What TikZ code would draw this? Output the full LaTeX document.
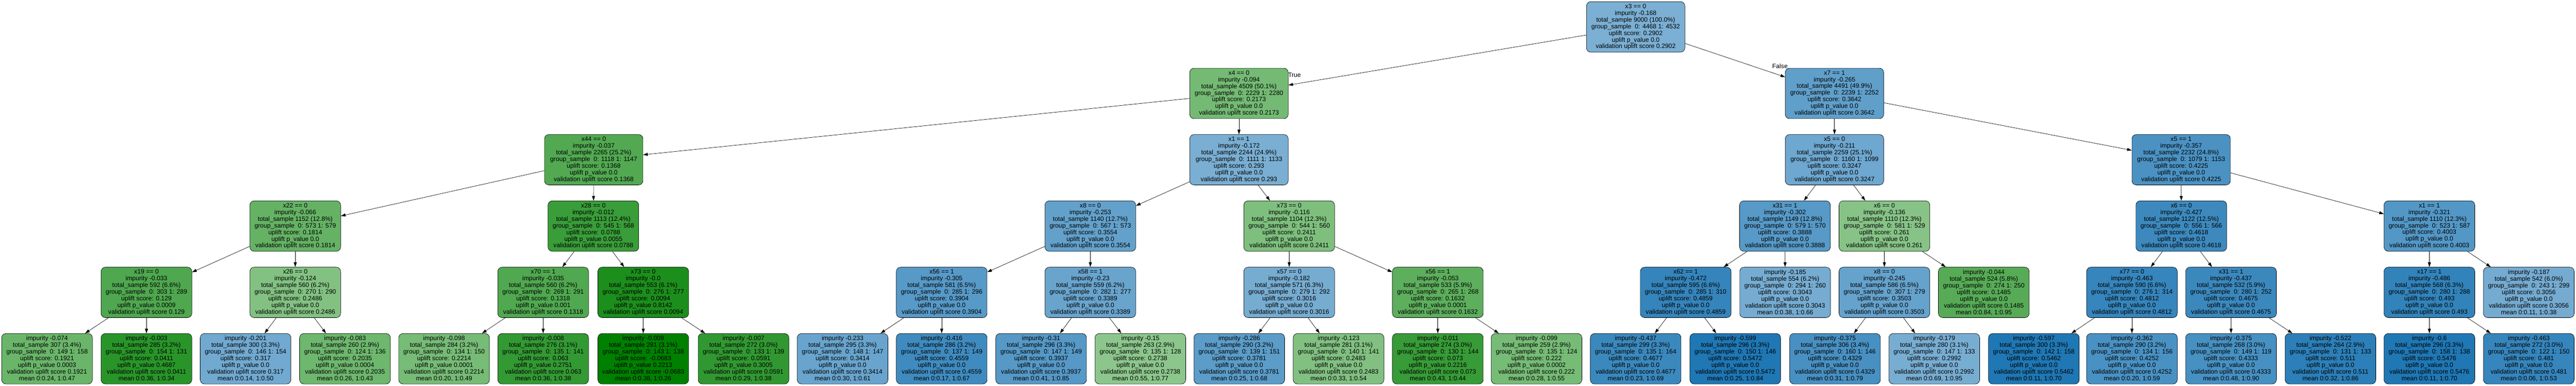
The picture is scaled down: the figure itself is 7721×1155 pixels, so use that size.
\documentclass[tikz,border=0pt]{standalone}
\usepackage{fontspec}
\setmainfont{Liberation Sans}
\usetikzlibrary{arrows.meta}
\definecolor{cgreen}{RGB}{0,128,0}
\definecolor{cblue}{RGB}{31,119,180}
\newcommand\nodeint[8]{#1\\impurity #2\\total\_sample #3 (#4\%)\\group\_sample\ \ 0: #5 1: #6\\uplift score: #7\\uplift p\_value #8\\validation uplift score #7}
\newcommand\nodeleaf[9]{impurity #1\\total\_sample #2 (#3\%)\\group\_sample\ \ 0: #4 1: #5\\uplift score: #6\\uplift p\_value #7\\validation uplift score #6\\mean 0:#8, 1:#9}
\tikzset{
  tn/.style={draw=black, line width=1pt, rounded corners=13pt, minimum height=151pt,
    inner sep=0pt, align=center, font=\fontsize{18.9}{20}\selectfont},
  wd/.style={minimum width=295pt},
  nw/.style={minimum width=272pt},
  conn/.style={draw=black, line width=1pt, -{Triangle[length=14pt,width=9pt]}},
  lbl/.style={font=\fontsize{18.9}{20}\selectfont, inner sep=0pt},
  sc/.code={%
    \pgfmathsetmacro\scv{#1}%
    \ifdim\scv pt<0.285pt
      \pgfmathsetmacro\pp{min(100,max(0,100*(0.907-1.67*\scv)))}%
      \edef\tmp{\noexpand\pgfkeysalso{fill={cgreen!\pp!white}}}%
    \else
      \pgfmathsetmacro\pp{min(100,max(0,100*(1.6*\scv+0.126)))}%
      \edef\tmp{\noexpand\pgfkeysalso{fill={cblue!\pp!white}}}%
    \fi
    \tmp},
}
\begin{document}
\begin{tikzpicture}[x=1pt,y=1pt]
\useasboundingbox (0,0) rectangle (7721,-1155);
\fill[white] (0,0) rectangle (7721,-1155);
% level 0
\node[tn,wd,sc=0.2902] (R) at (4902.5,-80.5) {\nodeint{x3 == 0}{-0.168}{9000}{100.0}{4468}{4532}{0.2902}{0.0}};
% level 1
\node[tn,wd,sc=0.2173] (N1) at (3713.5,-279.5) {\nodeint{x4 == 0}{-0.094}{4509}{50.1}{2229}{2280}{0.2173}{0.0}};
\node[tn,wd,sc=0.3642] (N2) at (5498.5,-279.5) {\nodeint{x7 == 1}{-0.265}{4491}{49.9}{2239}{2252}{0.3642}{0.0}};
% level 2
\node[tn,wd,sc=0.1368] (A) at (1779.5,-478) {\nodeint{x44 == 0}{-0.037}{2265}{25.2}{1118}{1147}{0.1368}{0.0}};
\node[tn,wd,sc=0.293] (B) at (3713.5,-478) {\nodeint{x1 == 1}{-0.172}{2244}{24.9}{1111}{1133}{0.293}{0.0}};
\node[tn,wd,sc=0.3247] (C) at (5498.5,-478) {\nodeint{x5 == 0}{-0.211}{2259}{25.1}{1160}{1099}{0.3247}{0.0}};
\node[tn,wd,sc=0.4225] (D) at (6537.5,-478) {\nodeint{x5 == 1}{-0.357}{2232}{24.8}{1079}{1153}{0.4225}{0.0}};
% level 3
\node[tn,nw,sc=0.1814] (a1) at (885,-676.5) {\nodeint{x22 == 0}{-0.066}{1152}{12.8}{573}{579}{0.1814}{0.0}};
\node[tn,nw,sc=0.0788] (a2) at (1778.5,-676.5) {\nodeint{x28 == 0}{-0.012}{1113}{12.4}{545}{568}{0.0788}{0.0055}};
\node[tn,nw,sc=0.3554] (b1) at (3268,-676.5) {\nodeint{x8 == 0}{-0.253}{1140}{12.7}{567}{573}{0.3554}{0.0}};
\node[tn,nw,sc=0.2411] (b2) at (3864,-676.5) {\nodeint{x73 == 0}{-0.116}{1104}{12.3}{544}{560}{0.2411}{0.0}};
\node[tn,nw,sc=0.3888] (c1) at (5350,-676.5) {\nodeint{x31 == 1}{-0.302}{1149}{12.8}{579}{570}{0.3888}{0.0}};
\node[tn,nw,sc=0.261] (c2) at (5648,-676.5) {\nodeint{x6 == 0}{-0.136}{1110}{12.3}{581}{529}{0.261}{0.0}};
\node[tn,nw,sc=0.4618] (d1) at (6538,-676.5) {\nodeint{x6 == 0}{-0.427}{1122}{12.5}{556}{566}{0.4618}{0.0}};
\node[tn,nw,sc=0.4003] (d2) at (7281.5,-676.5) {\nodeint{x1 == 1}{-0.321}{1110}{12.3}{523}{587}{0.4003}{0.0}};
% level 4
\node[tn,nw,sc=0.129] (a1a) at (439,-875) {\nodeint{x19 == 0}{-0.033}{592}{6.6}{303}{289}{0.129}{0.0009}};
\node[tn,nw,sc=0.2486] (a1b) at (885,-875) {\nodeint{x26 == 0}{-0.124}{560}{6.2}{270}{290}{0.2486}{0.0}};
\node[tn,nw,sc=0.1318] (a2a) at (1628,-875) {\nodeint{x70 == 1}{-0.035}{560}{6.2}{269}{291}{0.1318}{0.001}};
\node[tn,nw,sc=0.0094] (a2b) at (1928,-875) {\nodeint{x73 == 0}{-0.0}{553}{6.1}{276}{277}{0.0094}{0.8142}};
\node[tn,nw,sc=0.3904] (b1a) at (2822.5,-875) {\nodeint{x56 == 1}{-0.305}{581}{6.5}{285}{296}{0.3904}{0.0}};
\node[tn,nw,sc=0.3389] (b1b) at (3268,-875) {\nodeint{x58 == 1}{-0.23}{559}{6.2}{282}{277}{0.3389}{0.0}};
\node[tn,nw,sc=0.3016] (b2a) at (3864,-875) {\nodeint{x57 == 0}{-0.182}{571}{6.3}{279}{292}{0.3016}{0.0}};
\node[tn,nw,sc=0.1632] (b2b) at (4309.5,-875) {\nodeint{x56 == 1}{-0.053}{533}{5.9}{265}{268}{0.1632}{0.0001}};
\node[tn,nw,sc=0.4859] (c1a) at (5052.5,-875) {\nodeint{x62 == 1}{-0.472}{595}{6.6}{285}{310}{0.4859}{0.0}};
\node[tn,nw,sc=0.3043] (c1b) at (5350.5,-875) {\nodeleaf{-0.185}{554}{6.2}{294}{260}{0.3043}{0.0}{0.38}{0.66}};
\node[tn,nw,sc=0.3503] (c2a) at (5648,-875) {\nodeint{x8 == 0}{-0.245}{586}{6.5}{307}{279}{0.3503}{0.0}};
\node[tn,nw,sc=0.1485] (c2b) at (5946,-875) {\nodeleaf{-0.044}{524}{5.8}{274}{250}{0.1485}{0.0}{0.84}{0.95}};
\node[tn,nw,sc=0.4812] (d1a) at (6390,-875) {\nodeint{x77 == 0}{-0.463}{590}{6.6}{276}{314}{0.4812}{0.0}};
\node[tn,nw,sc=0.4675] (d1b) at (6687,-875) {\nodeint{x31 == 1}{-0.437}{532}{5.9}{280}{252}{0.4675}{0.0}};
\node[tn,nw,sc=0.493] (d2a) at (7281.5,-875) {\nodeint{x17 == 1}{-0.486}{568}{6.3}{280}{288}{0.493}{0.0}};
\node[tn,nw,sc=0.3056] (d2b) at (7579.5,-875) {\nodeleaf{-0.187}{542}{6.0}{243}{299}{0.3056}{0.0}{0.11}{0.38}};
% level 5
\node[tn,nw,sc=0.1921] (l1) at (141,-1073.5) {\nodeleaf{-0.074}{307}{3.4}{149}{158}{0.1921}{0.0003}{0.24}{0.47}};
\node[tn,nw,sc=0.0411] (l2) at (439,-1073.5) {\nodeleaf{-0.003}{285}{3.2}{154}{131}{0.0411}{0.4687}{0.36}{0.34}};
\node[tn,nw,sc=0.317] (l3) at (736,-1073.5) {\nodeleaf{-0.201}{300}{3.3}{146}{154}{0.317}{0.0}{0.14}{0.50}};
\node[tn,nw,sc=0.2035] (l4) at (1034,-1073.5) {\nodeleaf{-0.083}{260}{2.9}{124}{136}{0.2035}{0.0004}{0.26}{0.43}};
\node[tn,nw,sc=0.2214] (l5) at (1331,-1073.5) {\nodeleaf{-0.098}{284}{3.2}{134}{150}{0.2214}{0.0001}{0.20}{0.49}};
\node[tn,nw,sc=0.063] (l6) at (1628,-1073.5) {\nodeleaf{-0.008}{276}{3.1}{135}{141}{0.063}{0.2751}{0.36}{0.38}};
\node[tn,nw,sc=-0.0683] (l7) at (1928,-1073.5) {\nodeleaf{-0.009}{281}{3.1}{143}{138}{-0.0683}{0.2213}{0.38}{0.26}};
\node[tn,nw,sc=0.0591] (l8) at (2228.5,-1073.5) {\nodeleaf{-0.007}{272}{3.0}{133}{139}{0.0591}{0.3005}{0.29}{0.38}};
\node[tn,nw,sc=0.3414] (l9) at (2525.5,-1073.5) {\nodeleaf{-0.233}{295}{3.3}{148}{147}{0.3414}{0.0}{0.30}{0.61}};
\node[tn,nw,sc=0.4559] (l10) at (2822.5,-1073.5) {\nodeleaf{-0.416}{286}{3.2}{137}{149}{0.4559}{0.0}{0.17}{0.67}};
\node[tn,nw,sc=0.3937] (l11) at (3120.5,-1073.5) {\nodeleaf{-0.31}{296}{3.3}{147}{149}{0.3937}{0.0}{0.41}{0.85}};
\node[tn,nw,sc=0.2738] (l12) at (3418,-1073.5) {\nodeleaf{-0.15}{263}{2.9}{135}{128}{0.2738}{0.0}{0.55}{0.77}};
\node[tn,nw,sc=0.3781] (l13) at (3714.5,-1073.5) {\nodeleaf{-0.286}{290}{3.2}{139}{151}{0.3781}{0.0}{0.25}{0.68}};
\node[tn,nw,sc=0.2483] (l14) at (4012,-1073.5) {\nodeleaf{-0.123}{281}{3.1}{140}{141}{0.2483}{0.0}{0.33}{0.54}};
\node[tn,nw,sc=0.073] (l15) at (4309.5,-1073.5) {\nodeleaf{-0.011}{274}{3.0}{130}{144}{0.073}{0.2216}{0.43}{0.44}};
\node[tn,nw,sc=0.222] (l16) at (4605.5,-1073.5) {\nodeleaf{-0.099}{259}{2.9}{135}{124}{0.222}{0.0002}{0.28}{0.55}};
\node[tn,nw,sc=0.4677] (l17) at (4902.5,-1073.5) {\nodeleaf{-0.437}{299}{3.3}{135}{164}{0.4677}{0.0}{0.23}{0.69}};
\node[tn,nw,sc=0.5472] (l18) at (5201,-1073.5) {\nodeleaf{-0.599}{296}{3.3}{150}{146}{0.5472}{0.0}{0.25}{0.84}};
\node[tn,nw,sc=0.4329] (l19) at (5500,-1073.5) {\nodeleaf{-0.375}{306}{3.4}{160}{146}{0.4329}{0.0}{0.31}{0.79}};
\node[tn,nw,sc=0.2992] (l20) at (5797.5,-1073.5) {\nodeleaf{-0.179}{280}{3.1}{147}{133}{0.2992}{0.0}{0.69}{0.95}};
\node[tn,nw,sc=0.5462] (l21) at (6096,-1073.5) {\nodeleaf{-0.597}{300}{3.3}{142}{158}{0.5462}{0.0}{0.11}{0.70}};
\node[tn,nw,sc=0.4252] (l22) at (6390,-1073.5) {\nodeleaf{-0.362}{290}{3.2}{134}{156}{0.4252}{0.0}{0.20}{0.59}};
\node[tn,nw,sc=0.4333] (l23) at (6687,-1073.5) {\nodeleaf{-0.375}{268}{3.0}{149}{119}{0.4333}{0.0}{0.48}{0.90}};
\node[tn,nw,sc=0.511] (l24) at (6985,-1073.5) {\nodeleaf{-0.522}{264}{2.9}{131}{133}{0.511}{0.0}{0.32}{0.86}};
\node[tn,nw,sc=0.5476] (l25) at (7281.5,-1073.5) {\nodeleaf{-0.6}{296}{3.3}{158}{138}{0.5476}{0.0}{0.11}{0.70}};
\node[tn,nw,sc=0.481] (l26) at (7579.5,-1073.5) {\nodeleaf{-0.463}{272}{3.0}{122}{150}{0.481}{0.0}{0.06}{0.53}};
% edge labels
\node[lbl] (lblT) at (3880,-225) {True};
\node[lbl] (lblF) at (5335,-198) {False};
% connectors
\draw[conn] (R) -- (N1);
\draw[conn] (R) -- (N2);
\draw[conn] (N1) -- (A);
\draw[conn] (N1) -- (B);
\draw[conn] (N2) -- (C);
\draw[conn] (N2) -- (D);
\draw[conn] (A) -- (a1);
\draw[conn] (A) -- (a2);
\draw[conn] (B) -- (b1);
\draw[conn] (B) -- (b2);
\draw[conn] (C) -- (c1);
\draw[conn] (C) -- (c2);
\draw[conn] (D) -- (d1);
\draw[conn] (D) -- (d2);
\draw[conn] (a1) -- (a1a);
\draw[conn] (a1) -- (a1b);
\draw[conn] (a2) -- (a2a);
\draw[conn] (a2) -- (a2b);
\draw[conn] (b1) -- (b1a);
\draw[conn] (b1) -- (b1b);
\draw[conn] (b2) -- (b2a);
\draw[conn] (b2) -- (b2b);
\draw[conn] (c1) -- (c1a);
\draw[conn] (c1) -- (c1b);
\draw[conn] (c2) -- (c2a);
\draw[conn] (c2) -- (c2b);
\draw[conn] (d1) -- (d1a);
\draw[conn] (d1) -- (d1b);
\draw[conn] (d2) -- (d2a);
\draw[conn] (d2) -- (d2b);
\draw[conn] (a1a) -- (l1);
\draw[conn] (a1a) -- (l2);
\draw[conn] (a1b) -- (l3);
\draw[conn] (a1b) -- (l4);
\draw[conn] (a2a) -- (l5);
\draw[conn] (a2a) -- (l6);
\draw[conn] (a2b) -- (l7);
\draw[conn] (a2b) -- (l8);
\draw[conn] (b1a) -- (l9);
\draw[conn] (b1a) -- (l10);
\draw[conn] (b1b) -- (l11);
\draw[conn] (b1b) -- (l12);
\draw[conn] (b2a) -- (l13);
\draw[conn] (b2a) -- (l14);
\draw[conn] (b2b) -- (l15);
\draw[conn] (b2b) -- (l16);
\draw[conn] (c1a) -- (l17);
\draw[conn] (c1a) -- (l18);
\draw[conn] (c2a) -- (l19);
\draw[conn] (c2a) -- (l20);
\draw[conn] (d1a) -- (l21);
\draw[conn] (d1a) -- (l22);
\draw[conn] (d1b) -- (l23);
\draw[conn] (d1b) -- (l24);
\draw[conn] (d2a) -- (l25);
\draw[conn] (d2a) -- (l26);
\end{tikzpicture}
\end{document}
